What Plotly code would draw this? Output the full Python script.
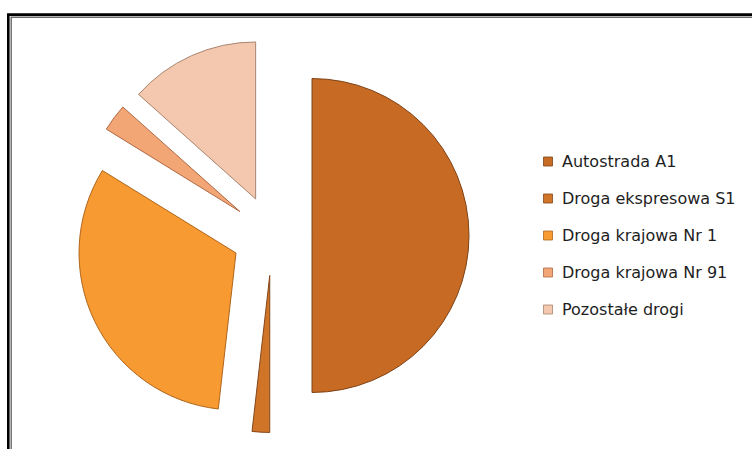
import plotly.graph_objects as go

# Share of traffic by road (percent)
labels = ["Autostrada A1", "Droga ekspresowa S1", "Droga krajowa Nr 1",
          "Droga krajowa Nr 91", "Pozostałe drogi"]
values = [50.0, 1.8, 32.0, 2.8, 13.4]

colors = ["#C76B24", "#D07528", "#F69A31", "#F2A676", "#F4C8AE"]
edge_colors = ["#7E4114", "#84461A", "#B0651C", "#B06A44", "#A88470"]

W, H = 752, 449
PULL = 0.255

fig = go.Figure()

fig.add_trace(go.Pie(
    labels=labels,
    values=values,
    sort=False,
    direction="clockwise",
    rotation=0,
    pull=[PULL] * len(values),
    textinfo="none",
    hoverinfo="label+percent",
    marker=dict(colors=colors, line=dict(color=edge_colors, width=1)),
    domain=dict(x=[75 / W, 469 / W], y=[16.5 / H, 410.5 / H]),
    showlegend=False,
))

# Legend drawn at the right: colour square + label per slice
shapes = []
annotations = []
row0, row_step = 161.5, 37.0
for i, (lab, col, ec) in enumerate(zip(labels, colors, edge_colors)):
    yc = row0 + i * row_step
    shapes.append(dict(
        type="rect", xref="paper", yref="paper",
        x0=543.5 / W, x1=552.5 / W,
        y0=1 - (yc + 4.5) / H, y1=1 - (yc - 4.5) / H,
        fillcolor=col, line=dict(color=ec, width=0.8),
    ))
    annotations.append(dict(
        text=lab, xref="paper", yref="paper",
        x=560 / W, y=1 - yc / H, xanchor="left", yanchor="middle",
        showarrow=False,
        font=dict(family="DejaVu Sans", size=16, color="#1E1E1E"),
    ))

# Double frame around the chart area
shapes.append(dict(
    type="rect", xref="paper", yref="paper",
    x0=8.3 / W, x1=(W + 20) / W, y0=1 - (H + 20) / H, y1=1 - 14.6 / H,
    line=dict(color="#000000", width=2.6), fillcolor="rgba(0,0,0,0)",
))
shapes.append(dict(
    type="rect", xref="paper", yref="paper",
    x0=11.2 / W, x1=(W + 20) / W, y0=1 - (H + 20) / H, y1=1 - 17.2 / H,
    line=dict(color="#6A6A6A", width=1.4), fillcolor="rgba(0,0,0,0)",
))

fig.update_layout(
    width=W, height=H,
    margin=dict(l=0, r=0, t=0, b=0),
    paper_bgcolor="#FFFFFF",
    plot_bgcolor="#FFFFFF",
    shapes=shapes,
    annotations=annotations,
)

fig.write_html("out.html")
